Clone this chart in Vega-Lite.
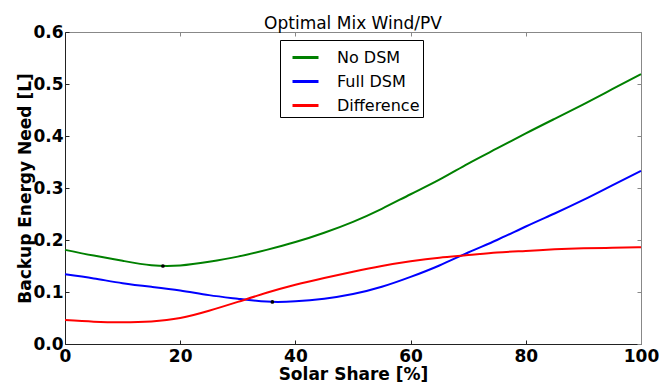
{
  "$schema": "https://vega.github.io/schema/vega-lite/v6.json",
  "autosize": "none",
  "padding": {"left": 65, "top": 32, "right": 18, "bottom": 41},
  "width": 576,
  "height": 312,
  "background": "white",
  "config": {
    "view": {"stroke": null},
    "font": "DejaVu Sans",
    "title": {"font": "DejaVu Sans", "fontSize": 17, "fontWeight": "normal", "color": "black"}
  },
  "title": {
    "text": "Optimal Mix Wind/PV",
    "font": "DejaVu Sans",
    "fontSize": 17,
    "fontWeight": "normal",
    "color": "black",
    "offset": -10
  },
  "datasets": {
    "curves": [
      {"x": 0, "y": 0.181, "series": "No DSM"},
      {"x": 5, "y": 0.170, "series": "No DSM"},
      {"x": 10, "y": 0.160, "series": "No DSM"},
      {"x": 15, "y": 0.1515, "series": "No DSM"},
      {"x": 20, "y": 0.151, "series": "No DSM"},
      {"x": 25, "y": 0.158, "series": "No DSM"},
      {"x": 30, "y": 0.168, "series": "No DSM"},
      {"x": 35, "y": 0.181, "series": "No DSM"},
      {"x": 40, "y": 0.196, "series": "No DSM"},
      {"x": 45, "y": 0.214, "series": "No DSM"},
      {"x": 50, "y": 0.235, "series": "No DSM"},
      {"x": 55, "y": 0.260, "series": "No DSM"},
      {"x": 60, "y": 0.288, "series": "No DSM"},
      {"x": 65, "y": 0.316, "series": "No DSM"},
      {"x": 70, "y": 0.347, "series": "No DSM"},
      {"x": 75, "y": 0.376, "series": "No DSM"},
      {"x": 80, "y": 0.405, "series": "No DSM"},
      {"x": 85, "y": 0.433, "series": "No DSM"},
      {"x": 90, "y": 0.461, "series": "No DSM"},
      {"x": 95, "y": 0.490, "series": "No DSM"},
      {"x": 100, "y": 0.519, "series": "No DSM"},
      {"x": 0, "y": 0.134, "series": "Full DSM"},
      {"x": 5, "y": 0.126, "series": "Full DSM"},
      {"x": 10, "y": 0.117, "series": "Full DSM"},
      {"x": 15, "y": 0.110, "series": "Full DSM"},
      {"x": 20, "y": 0.103, "series": "Full DSM"},
      {"x": 25, "y": 0.094, "series": "Full DSM"},
      {"x": 30, "y": 0.087, "series": "Full DSM"},
      {"x": 35, "y": 0.0815, "series": "Full DSM"},
      {"x": 40, "y": 0.082, "series": "Full DSM"},
      {"x": 45, "y": 0.087, "series": "Full DSM"},
      {"x": 50, "y": 0.096, "series": "Full DSM"},
      {"x": 55, "y": 0.110, "series": "Full DSM"},
      {"x": 60, "y": 0.129, "series": "Full DSM"},
      {"x": 65, "y": 0.151, "series": "Full DSM"},
      {"x": 70, "y": 0.176, "series": "Full DSM"},
      {"x": 75, "y": 0.200, "series": "Full DSM"},
      {"x": 80, "y": 0.226, "series": "Full DSM"},
      {"x": 85, "y": 0.251, "series": "Full DSM"},
      {"x": 90, "y": 0.277, "series": "Full DSM"},
      {"x": 95, "y": 0.305, "series": "Full DSM"},
      {"x": 100, "y": 0.333, "series": "Full DSM"},
      {"x": 0, "y": 0.046, "series": "Difference"},
      {"x": 5, "y": 0.043, "series": "Difference"},
      {"x": 10, "y": 0.042, "series": "Difference"},
      {"x": 15, "y": 0.0435, "series": "Difference"},
      {"x": 20, "y": 0.050, "series": "Difference"},
      {"x": 25, "y": 0.064, "series": "Difference"},
      {"x": 30, "y": 0.081, "series": "Difference"},
      {"x": 35, "y": 0.0985, "series": "Difference"},
      {"x": 40, "y": 0.114, "series": "Difference"},
      {"x": 45, "y": 0.127, "series": "Difference"},
      {"x": 50, "y": 0.139, "series": "Difference"},
      {"x": 55, "y": 0.150, "series": "Difference"},
      {"x": 60, "y": 0.159, "series": "Difference"},
      {"x": 65, "y": 0.166, "series": "Difference"},
      {"x": 70, "y": 0.171, "series": "Difference"},
      {"x": 75, "y": 0.176, "series": "Difference"},
      {"x": 80, "y": 0.179, "series": "Difference"},
      {"x": 85, "y": 0.182, "series": "Difference"},
      {"x": 90, "y": 0.184, "series": "Difference"},
      {"x": 95, "y": 0.185, "series": "Difference"},
      {"x": 100, "y": 0.186, "series": "Difference"}
    ],
    "minima": [
      {"x": 17, "y": 0.150},
      {"x": 36, "y": 0.081}
    ]
  },
  "layer": [
    {
      "data": {"name": "curves"},
      "mark": {"type": "line", "interpolate": "natural", "strokeWidth": 2},
      "encoding": {
        "x": {
          "field": "x", "type": "quantitative",
          "scale": {"domain": [0, 100], "nice": false},
          "axis": {
            "title": "Solar Share [%]",
            "values": [0, 20, 40, 60, 80, 100],
            "grid": false,
            "domainColor": "#222",
            "tickColor": "#222",
            "tickSize": -4,
            "labelPadding": 8,
            "labelFont": "DejaVu Sans",
            "labelFontWeight": "bold",
            "labelFontSize": 17,
            "labelColor": "black",
            "labelFlush": false,
            "titleFont": "DejaVu Sans",
            "titleFontWeight": "bold",
            "titleFontSize": 17,
            "titleColor": "black",
            "titlePadding": 2
          }
        },
        "y": {
          "field": "y", "type": "quantitative",
          "scale": {"domain": [0, 0.6], "nice": false},
          "axis": {
            "title": "Backup Energy Need [L]",
            "values": [0, 0.1, 0.2, 0.3, 0.4, 0.5, 0.6],
            "format": ".1f",
            "grid": false,
            "domainColor": "#222",
            "tickColor": "#222",
            "tickSize": -4,
            "labelPadding": 6,
            "labelFont": "DejaVu Sans",
            "labelFontWeight": "bold",
            "labelFontSize": 17,
            "labelColor": "black",
            "labelFlush": false,
            "titleFont": "DejaVu Sans",
            "titleFontWeight": "bold",
            "titleFontSize": 17,
            "titleColor": "black",
            "titlePadding": -2
          }
        },
        "color": {
          "field": "series", "type": "nominal",
          "scale": {"domain": ["No DSM", "Full DSM", "Difference"], "range": ["#008000", "#0000ff", "#ff0000"]},
          "legend": {
            "title": null,
            "orient": "none",
            "legendX": 215,
            "legendY": 8,
            "symbolType": "stroke",
            "symbolSize": 676,
            "symbolStrokeWidth": 3,
            "symbolOffset": 8,
            "labelFont": "DejaVu Sans",
            "labelFontSize": 16,
            "labelColor": "black",
            "labelOffset": 17,
            "rowPadding": 1,
            "padding": 3,
            "fillColor": "white",
            "strokeColor": "black",
            "offset": 0
          }
        }
      }
    },
    {
      "data": {"name": "minima"},
      "mark": {"type": "circle", "color": "black", "size": 14, "opacity": 1},
      "encoding": {
        "x": {"field": "x", "type": "quantitative", "axis": null},
        "y": {"field": "y", "type": "quantitative", "axis": null}
      }
    },
    {
      "data": {"name": "minima"},
      "mark": {"type": "point", "opacity": 0},
      "encoding": {
        "x": {"field": "x", "type": "quantitative", "axis": {"orient": "top", "title": null, "labels": false, "values": [0, 20, 40, 60, 80, 100], "grid": false, "domainColor": "#888", "tickColor": "#888", "tickSize": -4}},
        "y": {"field": "y", "type": "quantitative", "axis": {"orient": "right", "title": null, "labels": false, "values": [0, 0.1, 0.2, 0.3, 0.4, 0.5, 0.6], "grid": false, "domainColor": "#888", "tickColor": "#888", "tickSize": -4}}
      }
    }
  ],
  "resolve": {"axis": {"x": "independent", "y": "independent"}}
}
